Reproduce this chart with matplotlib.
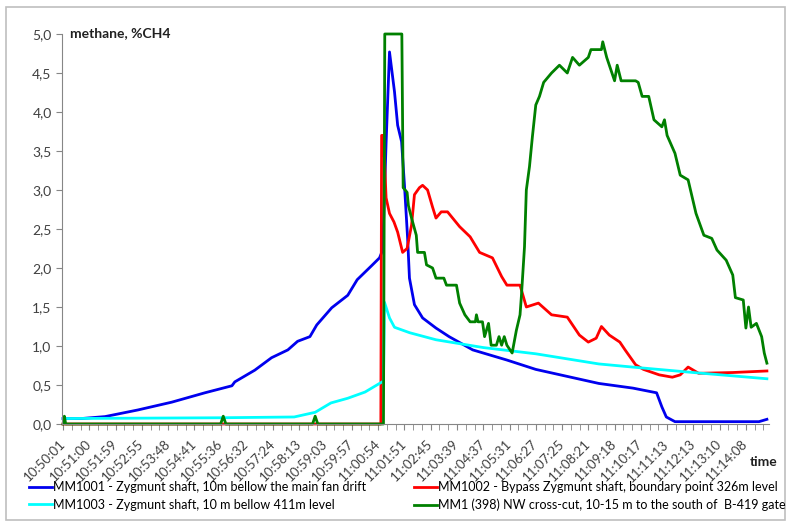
import matplotlib
matplotlib.use("Agg")
import matplotlib.pyplot as plt
from matplotlib.patches import Rectangle
from matplotlib.ticker import MultipleLocator, FuncFormatter

plt.rcParams['font.family'] = ['Lato', 'DejaVu Sans']

# category labels of the time axis (one label every 3 tick steps)
time_labels = ['10:50:01', '10:51:00', '10:51:59', '10:52:55', '10:53:48', '10:54:41',
               '10:55:36', '10:56:32', '10:57:24', '10:58:13', '10:59:03', '10:59:57',
               '11:00:54', '11:01:51', '11:02:45', '11:03:39', '11:04:37', '11:05:31',
               '11:06:27', '11:07:25', '11:08:21', '11:09:18', '11:10:17', '11:11:13',
               '11:12:13', '11:13:10', '11:14:08']

# x in label steps, y in %CH4
mm1001_x = [0, 0.7, 1.6, 2.85, 4.14, 5.4, 6.43, 6.54, 7.3, 7.94, 8.56, 8.93, 9.4, 9.66,
            10.23, 10.84, 11.2, 11.75, 12.05, 12.17, 12.3, 12.43, 12.62, 12.74, 12.89,
            13.0, 13.12, 13.19, 13.38, 13.69, 14.2, 14.7, 15.6, 16.9, 18.0, 20.4, 21.7,
            22.6, 22.8, 22.97, 23.3, 26.5, 26.8]
mm1001_y = [0.07, 0.07, 0.095, 0.18, 0.28, 0.40, 0.49, 0.54, 0.69, 0.85, 0.95, 1.06, 1.12,
            1.27, 1.49, 1.65, 1.85, 2.03, 2.13, 2.23, 3.6, 4.77, 4.26, 3.83, 3.62, 3.06,
            2.38, 1.87, 1.53, 1.36, 1.23, 1.12, 0.95, 0.82, 0.70, 0.52, 0.46, 0.40, 0.22,
            0.09, 0.03, 0.03, 0.06]

mm1002_x = [0, 12.1, 12.13, 12.2, 12.3, 12.43, 12.6, 12.74, 12.93, 13.1, 13.27, 13.38,
            13.57, 13.69, 13.88, 14.07, 14.2, 14.4, 14.64, 15.1, 15.5, 15.86, 16.35, 16.7,
            16.9, 17.4, 17.64, 18.1, 18.6, 19.2, 19.66, 20.0, 20.3, 20.5, 20.8, 21.2, 21.4,
            21.8, 22.1, 22.7, 23.2, 23.5, 23.8, 24.2, 25.5, 26.8]
mm1002_y = [0, 0, 3.7, 3.7, 2.9, 2.7, 2.59, 2.46, 2.2, 2.25, 2.55, 2.94, 3.03, 3.06, 3.0,
            2.78, 2.64, 2.72, 2.72, 2.53, 2.4, 2.2, 2.13, 1.89, 1.78, 1.78, 1.5, 1.55, 1.4,
            1.37, 1.14, 1.05, 1.1, 1.25, 1.14, 1.05, 0.95, 0.76, 0.70, 0.63, 0.60, 0.63,
            0.73, 0.65, 0.66, 0.68]

mm1003_x = [0, 6.0, 8.8, 9.6, 10.2, 10.84, 11.5, 12.1, 12.2, 12.24, 12.43, 12.62, 13.2,
            14.2, 16.0, 18.0, 20.4, 22.0, 24.0, 26.8]
mm1003_y = [0.07, 0.08, 0.09, 0.15, 0.27, 0.33, 0.41, 0.53, 0.55, 1.56, 1.36, 1.24, 1.17,
            1.08, 0.98, 0.90, 0.77, 0.72, 0.66, 0.58]

mm1_x = [0, 0.05, 0.1, 6.0, 6.1, 6.2, 9.5, 9.6, 9.7, 12.2, 12.25, 12.9, 12.95, 13.1, 13.15,
         13.27, 13.45, 13.5, 13.76, 13.84, 14.07, 14.2, 14.5, 14.6, 14.98, 15.1, 15.3, 15.5,
         15.7, 15.74, 15.8, 15.97, 16.05, 16.2, 16.3, 16.5, 16.6, 16.7, 16.8, 16.9, 17.1,
         17.26, 17.4, 17.45, 17.57, 17.64, 17.76, 17.87, 18.0, 18.14, 18.3, 18.6, 18.9,
         19.2, 19.4, 19.66, 20.0, 20.1, 20.5, 20.55, 20.7, 20.8, 21.0, 21.1, 21.25, 21.8,
         21.9, 22.05, 22.3, 22.5, 22.8, 22.9, 23.0, 23.3, 23.5, 23.8, 24.1, 24.4, 24.7,
         24.9, 25.25, 25.5, 25.6, 25.9, 26.0, 26.1, 26.2, 26.4, 26.6, 26.7, 26.8]
mm1_y = [0, 0.1, 0, 0, 0.1, 0, 0, 0.1, 0, 0, 5.0, 5.0, 3.03, 2.97, 2.8, 2.64, 2.42, 2.2,
         2.2, 2.04, 2.0, 1.87, 1.87, 1.78, 1.78, 1.55, 1.4, 1.31, 1.31, 1.4, 1.31, 1.31,
         1.12, 1.29, 1.01, 1.01, 1.12, 1.01, 1.12, 1.01, 0.91, 1.2, 1.4, 1.63, 2.27, 3.0,
         3.3, 3.68, 4.09, 4.2, 4.38, 4.5, 4.6, 4.5, 4.7, 4.6, 4.7, 4.8, 4.8, 4.9, 4.7, 4.6,
         4.4, 4.6, 4.4, 4.4, 4.38, 4.2, 4.2, 3.9, 3.81, 3.9, 3.7, 3.47, 3.19, 3.13, 2.7,
         2.42, 2.38, 2.23, 2.1, 1.91, 1.62, 1.59, 1.23, 1.5, 1.24, 1.29, 1.12, 0.91, 0.78]

fig = plt.figure(figsize=(7.91, 5.26), dpi=100)
ax = fig.add_axes([62 / 791, 1 - 424 / 526, 707 / 791, 390 / 526])

l1, = ax.plot(mm1001_x, mm1001_y, color='#0000ee', lw=2.0, clip_on=False)
l2, = ax.plot(mm1002_x, mm1002_y, color='#ff0000', lw=2.0, clip_on=False)
l3, = ax.plot(mm1003_x, mm1003_y, color='#00ffff', lw=2.0, clip_on=False)
l4, = ax.plot(mm1_x, mm1_y, color='#008000', lw=2.0, clip_on=False)

ax.set_xlim(-0.04, 26.88)
ax.set_ylim(0, 5)
ax.yaxis.set_major_locator(MultipleLocator(0.5))
ax.yaxis.set_major_formatter(FuncFormatter(lambda v, p: f"{v:.1f}".replace('.', ',')))
ax.set_xticks(range(len(time_labels)))
ax.set_xticklabels(time_labels, rotation=45, ha='right', va='center', rotation_mode='anchor')
ax.xaxis.set_minor_locator(MultipleLocator(1 / 3))

for s in ['top', 'right']:
    ax.spines[s].set_visible(False)
for s in ['left', 'bottom']:
    ax.spines[s].set_color('#868686')
ax.tick_params(axis='both', colors='#868686', labelcolor='#404040', length=4)
ax.tick_params(axis='y', labelsize=10)
ax.tick_params(axis='x', labelsize=9.5, pad=9)
ax.tick_params(axis='x', which='minor', colors='#868686', length=4)

ax.text(70 / 791, 1 - 37 / 526, 'methane, %CH4', transform=fig.transFigure,
        fontsize=10, fontweight='bold', va='baseline', color='#202020')
fig.text(750 / 791, 1 - 466 / 526, 'time', fontsize=10, fontweight='bold', color='#202020')

fig.legend([l1, l3, l2, l4],
           ['MM1001 - Zygmunt shaft, 10m bellow the main fan drift',
            'MM1003 - Zygmunt shaft, 10 m bellow 411m level',
            'MM1002 - Bypass Zygmunt shaft, boundary point 326m level',
            'MM1 (398) NW cross-cut, 10-15 m to the south of  B-419 gate'],
           ncol=2, loc='upper left', bbox_to_anchor=(29 / 791, 1 - 481 / 526),
           frameon=False, fontsize=9, handlelength=1.85, handletextpad=0.1,
           columnspacing=3.8, labelspacing=0.46, borderpad=0, borderaxespad=0)

fig.patches.append(Rectangle((6 / 791, 6 / 526), 779 / 791, 513 / 526, transform=fig.transFigure,
                             fill=False, edgecolor='#bfbfbf', lw=1.2))

fig.savefig('out.png', dpi=100)
